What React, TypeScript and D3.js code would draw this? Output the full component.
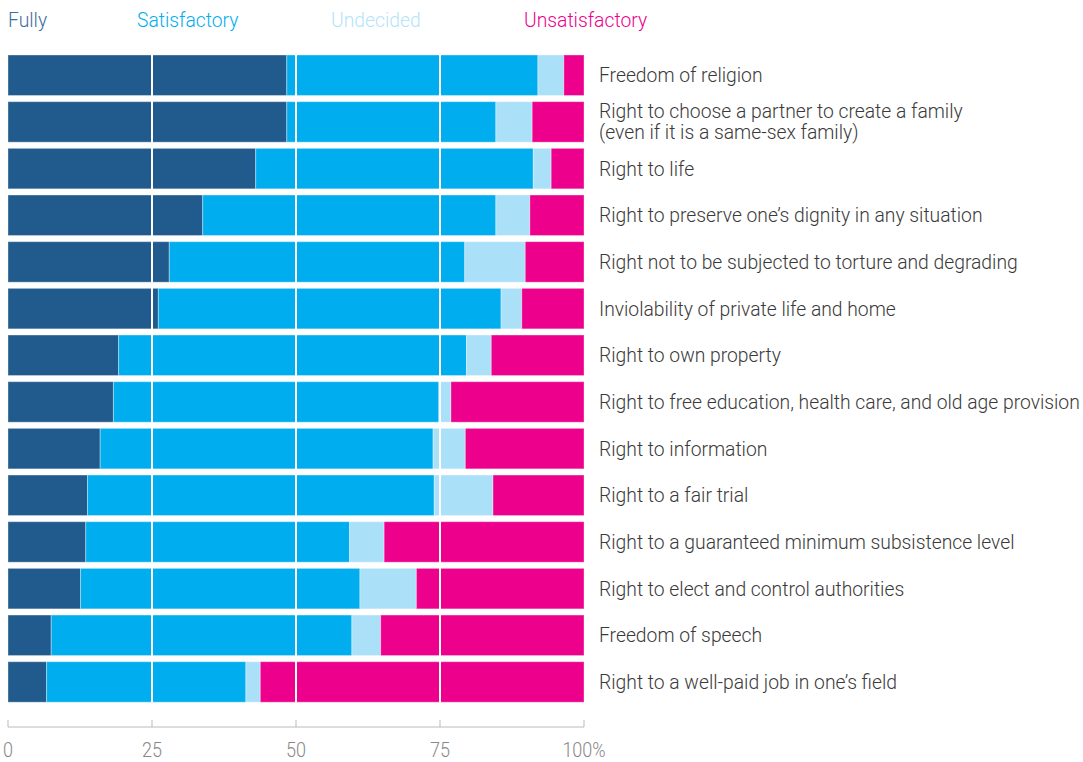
import React from "react";
import * as d3 from "d3";

const categories = [
  "Freedom of religion",
  "Right to choose a partner to create a family\n(even if it is a same-sex family)",
  "Right to life",
  "Right to preserve one’s dignity in any situation",
  "Right not to be subjected to torture and degrading",
  "Inviolability of private life and home",
  "Right to own property",
  "Right to free education, health care, and old age provision",
  "Right to information",
  "Right to a fair trial",
  "Right to a guaranteed minimum subsistence level",
  "Right to elect and control authorities",
  "Freedom of speech",
  "Right to a well-paid job in one’s field",
];

const seriesNames = ["Fully", "Satisfactory", "Undecided", "Unsatisfactory"];
const seriesColors = ["#215a8c", "#00aeef", "#abe0f9", "#ec008c"];
const legendColors = ["#3d6e9c", "#00aeef", "#b5e3f8", "#ec008c"];

const fully = [48.4, 48.4, 43.0, 33.8, 28.0, 26.1, 19.2, 18.3, 16.0, 13.8, 13.5, 12.6, 7.5, 6.7];
const satisfactory = [43.6, 36.3, 48.2, 50.9, 51.3, 59.5, 60.4, 56.5, 57.8, 60.2, 45.8, 48.5, 52.2, 34.6];
const undecided = [4.5, 6.3, 3.1, 5.9, 10.5, 3.6, 4.3, 2.1, 5.6, 10.2, 6.0, 9.8, 5.0, 2.5];
const unsatisfactory = [3.5, 9.0, 5.7, 9.4, 10.2, 10.8, 16.1, 23.1, 20.6, 15.8, 34.7, 29.1, 35.3, 56.2];

const xTicks = [0, 25, 50, 75, 100];
const gridValues = [25, 50, 75];

const W = 1083;
const H = 762;
const FONT = "Roboto, 'Noto Sans', sans-serif";

export default function App() {
  const rows = categories.map((c, i) => ({
    cat: c,
    Fully: fully[i],
    Satisfactory: satisfactory[i],
    Undecided: undecided[i],
    Unsatisfactory: unsatisfactory[i],
  }));
  const stacked = d3.stack<any>().keys(seriesNames)(rows);

  const x = d3.scaleLinear().domain([0, 100]).range([8, 584]);
  const step = 46.67;
  const p = 0.132;
  const top0 = 55 - (p / 2) * step;
  const y = d3
    .scaleBand<string>()
    .domain(categories)
    .range([top0, top0 + step * categories.length])
    .paddingInner(p)
    .paddingOuter(p / 2);

  const color = d3.scaleOrdinal<string, string>().domain(seriesNames).range(seriesColors);
  const legendX = [8, 137, 331, 524];
  const axisY = 727;
  const barTop = y(categories[0])!;
  const barBottom = y(categories[categories.length - 1])! + y.bandwidth();
  const sx = 0.965;
  const sxTick = 0.9;

  return (
    <div style={{ position: "fixed", left: 0, top: 0 }}>
      <svg width={W} height={H} style={{ display: "block", background: "#fff" }}>
        {seriesNames.map((s, i) => (
          <text
            key={s}
            transform={`translate(${legendX[i]},27) scale(${sx},1)`}
            fontFamily={FONT}
            fontWeight={300}
            fontSize={20}
            fill={legendColors[i]}
          >
            {s}
          </text>
        ))}
        {stacked.map((layer) => (
          <g key={layer.key} fill={color(layer.key)}>
            {layer.map((d, j) => (
              <rect
                key={j}
                x={x(d[0])}
                y={y(d.data.cat)}
                width={Math.max(0, x(d[1]) - x(d[0]))}
                height={y.bandwidth()}
                stroke="#ffffff"
                strokeOpacity={0.35}
                strokeWidth={1}
              />
            ))}
          </g>
        ))}
        {gridValues.map((g) => (
          <line
            key={g}
            x1={x(g)}
            x2={x(g)}
            y1={barTop}
            y2={barBottom}
            stroke="#ffffff"
            strokeWidth={2}
          />
        ))}
        {categories.map((c) => {
          const lines = c.split("\n");
          const cy = y(c)! + y.bandwidth() / 2;
          const lh = 21;
          return (
            <text
              key={c}
              transform={`translate(599,0) scale(${sx},1)`}
              fontFamily={FONT}
              fontWeight={300}
              fontSize={20}
              fill="#3a3a3a"
            >
              {lines.map((l, k) => (
                <tspan
                  key={k}
                  x={0}
                  y={cy + (k - (lines.length - 1) / 2) * lh}
                  dy="0.35em"
                >
                  {l}
                </tspan>
              ))}
            </text>
          );
        })}
        <line x1={x(0)} x2={x(100)} y1={axisY} y2={axisY} stroke="#bbb" strokeWidth={1} />
        {xTicks.map((t) => (
          <g key={t} transform={`translate(${x(t)},0)`}>
            <line y1={axisY} y2={axisY - 7} stroke="#bbb" strokeWidth={1} />
            <text
              transform={`translate(0,757) scale(${sxTick},1)`}
              textAnchor="middle"
              fontFamily={FONT}
              fontWeight={300}
              fontSize={20}
              fill="#888"
            >
              {t === 100 ? "100%" : String(t)}
            </text>
          </g>
        ))}
      </svg>
    </div>
  );
}
